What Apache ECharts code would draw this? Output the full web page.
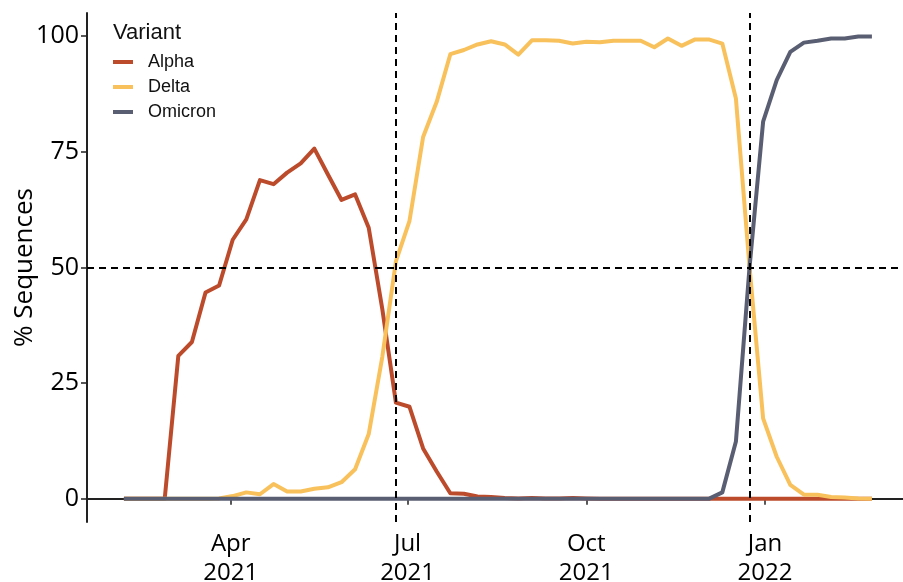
<!DOCTYPE html>
<html>
<head>
<meta charset="utf-8">
<script src="https://cdn.jsdelivr.net/npm/echarts@6/dist/echarts.min.js"></script>
<style>
html,body{margin:0;padding:0;background:#fff;}
#chart{width:903px;height:582px;}
</style>
</head>
<body>
<div id="chart"></div>
<script>
const weeks = [
 '2021-02-05','2021-02-12','2021-02-19','2021-02-26','2021-03-05','2021-03-12','2021-03-19','2021-03-26',
 '2021-04-02','2021-04-09','2021-04-16','2021-04-23','2021-04-30','2021-05-07','2021-05-14','2021-05-21',
 '2021-05-28','2021-06-04','2021-06-11','2021-06-18','2021-06-25','2021-07-02','2021-07-09','2021-07-16',
 '2021-07-23','2021-07-30','2021-08-06','2021-08-13','2021-08-20','2021-08-27','2021-09-03','2021-09-10',
 '2021-09-17','2021-09-24','2021-10-01','2021-10-08','2021-10-15','2021-10-22','2021-10-29','2021-11-05',
 '2021-11-12','2021-11-19','2021-11-26','2021-12-03','2021-12-10','2021-12-17','2021-12-24','2021-12-31',
 '2022-01-07','2022-01-14','2022-01-21','2022-01-28','2022-02-04','2022-02-11','2022-02-18','2022-02-25'
];
const alpha = [
 0,0,0,0,30.9,33.9,44.6,46.1,
 56.0,60.4,68.9,68.0,70.5,72.5,75.7,70.1,
 64.6,65.8,58.6,41.0,20.8,19.9,10.9,5.9,
 1.2,1.1,0.5,0.4,0.2,0.1,0.2,0.1,
 0.1,0.2,0.1,0,0,0,0,0,
 0,0,0,0,0,0,0,0,
 0,0,0,0,0,0,0,0
];
const delta = [
 0,0,0,0,0,0,0,0.1,
 0.6,1.4,1.0,3.2,1.6,1.6,2.2,2.5,
 3.6,6.4,14.0,30.7,51.3,60.1,78.2,85.8,
 96.1,97.0,98.2,98.9,98.2,96.0,99.1,99.1,
 99.0,98.4,98.8,98.7,99.0,99.0,99.0,97.6,
 99.5,97.9,99.3,99.3,98.4,86.5,50.2,17.4,
 9.1,3.0,0.9,0.9,0.4,0.3,0.1,0.0
];
const omicron = [
 0,0,0,0,0,0,0,0,
 0,0,0,0,0,0,0,0,
 0,0,0,0,0,0,0,0,
 0,0,0,0,0,0,0,0,
 0,0,0,0,0,0,0,0,
 0,0,0,0,1.4,12.4,50.0,81.5,
 90.5,96.6,98.6,99.0,99.5,99.5,99.9,99.9
];
const seriesNames = ['Alpha','Delta','Omicron'];
const seriesColors = ['#BC4B2C','#F8C15C','#5A5E72'];
const yTicks = [0,25,50,75,100];
const xTickDates = ['2021-04-01','2021-07-01','2021-10-01','2022-01-01'];
const crossDates = ['2021-06-25','2021-12-24'];
const monthNames = ['Jan','Feb','Mar','Apr','May','Jun','Jul','Aug','Sep','Oct','Nov','Dec'];

function ts(s){ const p = s.split('-').map(Number); return Date.UTC(p[0], p[1]-1, p[2]); }

const chart = echarts.init(document.getElementById('chart'), null, {renderer:'canvas'});
const dataSets = [alpha, delta, omicron];
const series = seriesNames.map((n, k) => ({
  name: n,
  type: 'line',
  data: weeks.map((w, i) => [ts(w), dataSets[k][i]]),
  showSymbol: false,
  symbol: 'none',
  smooth: false,
  lineStyle: {color: seriesColors[k], width: 4, join: 'round', cap: 'butt'},
  itemStyle: {color: seriesColors[k]},
  z: 2 + k
}));
series[2].markLine = {
  silent: true,
  symbol: ['none','none'],
  label: {show: false},
  lineStyle: {color: '#000', type: [7,5], width: 2},
  data: [
    {xAxis: ts(crossDates[0])},
    {xAxis: ts(crossDates[1])},
    {yAxis: 50}
  ],
  z: 10
};

chart.setOption({
  animation: false,
  backgroundColor: '#fff',
  grid: {left: 87, right: 0, top: 13, bottom: 60, containLabel: false, outerBoundsMode: 'none'},
  xAxis: {
    type: 'value',
    min: ts('2021-01-17'),
    max: ts('2022-03-13'),
    axisLine: {show: true, lineStyle: {color: '#222', width: 2}},
    axisTick: {show: true, length: 6, lineStyle: {color: '#222', width: 1.5}, customValues: xTickDates.map(ts)},
    axisLabel: {
      customValues: xTickDates.map(ts),
      formatter: function(v){ const d = new Date(v); return monthNames[d.getUTCMonth()] + '\n' + d.getUTCFullYear(); },
      fontFamily: 'Open Sans', fontSize: 24, color: '#000', lineHeight: 29, margin: 8
    },
    splitLine: {show: false}
  },
  yAxis: {
    type: 'value',
    min: -5, max: 105,
    name: '% Sequences',
    nameLocation: 'middle',
    nameGap: 49,
    nameMoveOverlap: false,
    nameTextStyle: {fontFamily: 'Open Sans', fontSize: 26, color: '#000'},
    axisLine: {show: true, lineStyle: {color: '#222', width: 2}},
    axisTick: {show: true, length: 6, lineStyle: {color: '#222', width: 1.5}, customValues: yTicks},
    axisLabel: {customValues: yTicks, fontFamily: 'Open Sans', fontSize: 25, color: '#000', margin: 8},
    splitLine: {show: false}
  },
  legend: {
    orient: 'vertical',
    left: 113, top: 53,
    padding: 0,
    data: seriesNames,
    icon: 'rect',
    itemWidth: 20, itemHeight: 4,
    itemGap: 7,
    textStyle: {fontFamily: 'Liberation Sans', fontSize: 18, color: '#111', lineHeight: 18, padding: [0,0,0,10]}
  },
  graphic: [{
    type: 'text', left: 113, top: 22,
    style: {text: 'Variant', font: '22px "Liberation Sans"', fill: '#111'}
  }],
  series: series
});
</script>
</body>
</html>
